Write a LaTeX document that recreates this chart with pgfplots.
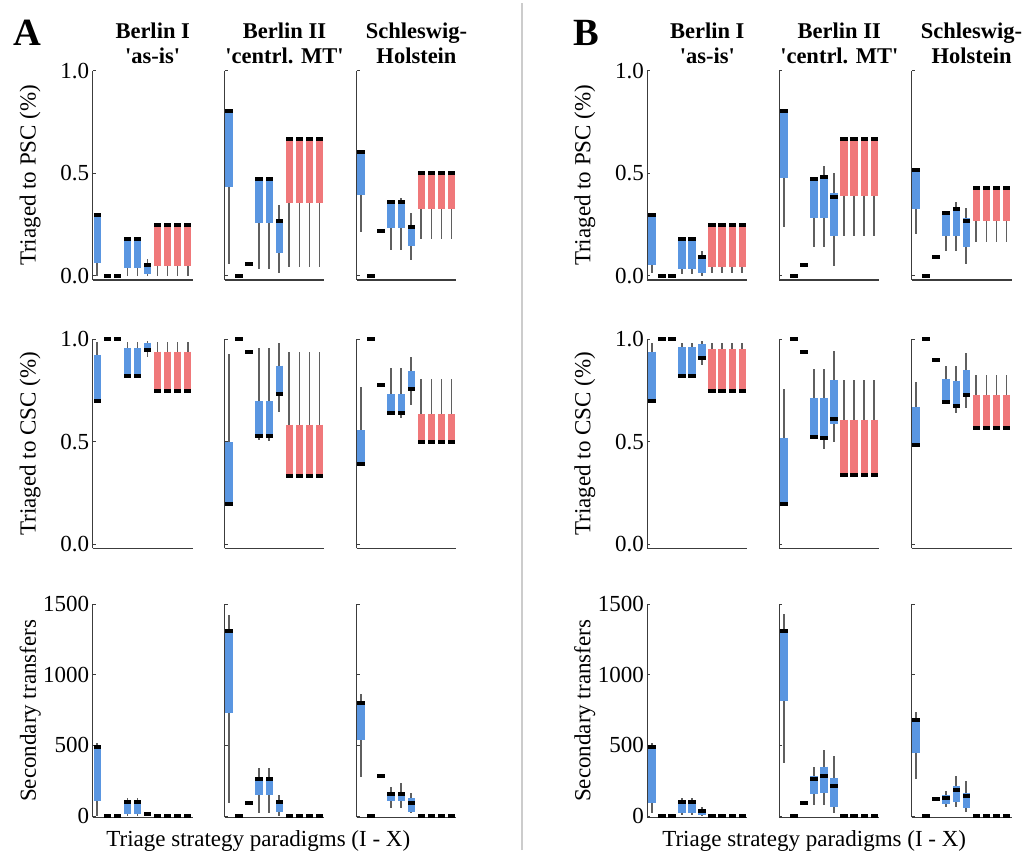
\documentclass[border=0pt]{standalone}
\usepackage{fontspec}
\setmainfont{Liberation Serif}
\usepackage{pgfplots}
\usepackage{pgfplotstable}
\pgfplotsset{compat=1.18}
\definecolor{bxblue}{RGB}{90,150,225}
\definecolor{bxred}{RGB}{240,120,122}
\definecolor{axgray}{RGB}{60,60,60}
\definecolor{whisk}{RGB}{95,95,95}
\pgfdeclareplotmark{medbar}{\pgfpathrectangle{\pgfpoint{-3.7pt}{-2pt}}{\pgfpoint{7.4pt}{4pt}}\pgfusepathqfill}

% columns: x lo q1 med q3 hi
\pgfplotstableread{
x lo q1 med q3 hi
1 0 0.062 0.297 0.297 0.297
2 0 0 0 0 0
3 0 0 0 0 0
4 0 0.037 0.179 0.179 0.179
5 0 0.037 0.179 0.179 0.179
6 0 0.01 0.054 0.06 0.08
7 0 0.05 0.248 0.248 0.248
8 0 0.05 0.248 0.248 0.248
9 0 0.05 0.248 0.248 0.248
10 0 0.05 0.248 0.248 0.248
}\tAaa
\pgfplotstableread{
x lo q1 med q3 hi
1 0.056 0.432 0.805 0.805 0.805
2 0 0 0 0 0
3 0.056 0.056 0.056 0.056 0.056
4 0.033 0.257 0.472 0.472 0.472
5 0.033 0.257 0.472 0.472 0.472
6 0.013 0.11 0.266 0.27 0.344
7 0.045 0.354 0.666 0.666 0.666
8 0.045 0.354 0.666 0.666 0.666
9 0.045 0.354 0.666 0.666 0.666
10 0.045 0.354 0.666 0.666 0.666
}\tAab
\pgfplotstableread{
x lo q1 med q3 hi
1 0.213 0.394 0.606 0.606 0.606
2 0 0 0 0 0
3 0.219 0.219 0.219 0.219 0.219
4 0.127 0.232 0.359 0.359 0.359
5 0.127 0.232 0.359 0.359 0.378
6 0.078 0.146 0.24 0.25 0.305
7 0.179 0.325 0.5 0.5 0.5
8 0.179 0.325 0.5 0.5 0.5
9 0.179 0.325 0.5 0.5 0.5
10 0.179 0.325 0.5 0.5 0.5
}\tAac
\pgfplotstableread{
x lo q1 med q3 hi
1 0.697 0.697 0.697 0.924 0.989
2 1 1 1 1 1
3 1 1 1 1 1
4 0.819 0.819 0.819 0.956 0.989
5 0.819 0.819 0.819 0.956 0.989
6 0.913 0.945 0.948 0.984 0.99
7 0.746 0.746 0.746 0.94 0.989
8 0.746 0.746 0.746 0.94 0.989
9 0.746 0.746 0.746 0.94 0.989
10 0.746 0.746 0.746 0.94 0.989
}\tAba
\pgfplotstableread{
x lo q1 med q3 hi
1 0.196 0.196 0.196 0.498 0.929
2 1 1 1 1 1
3 0.94 0.94 0.94 0.94 0.94
4 0.508 0.527 0.527 0.697 0.956
5 0.503 0.527 0.527 0.697 0.956
6 0.647 0.733 0.733 0.872 0.98
7 0.333 0.333 0.333 0.584 0.94
8 0.333 0.333 0.333 0.584 0.94
9 0.333 0.333 0.333 0.584 0.94
10 0.333 0.333 0.333 0.584 0.94
}\tAbb
\pgfplotstableread{
x lo q1 med q3 hi
1 0.393 0.393 0.393 0.557 0.767
2 1 1 1 1 1
3 0.778 0.778 0.778 0.778 0.778
4 0.633 0.641 0.641 0.733 0.859
5 0.617 0.641 0.641 0.733 0.859
6 0.681 0.757 0.757 0.846 0.913
7 0.498 0.498 0.498 0.633 0.807
8 0.498 0.498 0.498 0.633 0.807
9 0.498 0.498 0.498 0.633 0.807
10 0.498 0.498 0.498 0.633 0.807
}\tAbc
\pgfplotstableread{
x lo q1 med q3 hi
1 0 109 491 491 518
2 0 0 0 0 0
3 0 0 0 0 0
4 0 15 98 98 125
5 0 15 98 98 125
6 12 12 12 12 12
7 0 0 0 0 0
8 0 0 0 0 0
9 0 0 0 0 0
10 0 0 0 0 0
}\tAca
\pgfplotstableread{
x lo q1 med q3 hi
1 90 727 1311 1311 1424
2 0 0 0 0 0
3 90 90 90 90 90
4 19 149 260 260 342
5 19 149 260 260 342
6 0 31 97 105 149
7 0 0 0 0 0
8 0 0 0 0 0
9 0 0 0 0 0
10 0 0 0 0 0
}\tAcb
\pgfplotstableread{
x lo q1 med q3 hi
1 279 539 798 798 862
2 0 0 0 0 0
3 286 286 286 286 286
4 54 106 156 165 208
5 54 106 156 165 236
6 19 31 90 125 165
7 0 0 0 0 0
8 0 0 0 0 0
9 0 0 0 0 0
10 0 0 0 0 0
}\tAcc
\pgfplotstableread{
x lo q1 med q3 hi
1 0.013 0.054 0.297 0.297 0.297
2 0 0 0 0 0
3 0 0 0 0 0
4 0.01 0.032 0.179 0.179 0.179
5 0.01 0.032 0.179 0.179 0.179
6 0 0.013 0.091 0.1 0.119
7 0.013 0.045 0.248 0.248 0.248
8 0.013 0.045 0.248 0.248 0.248
9 0.013 0.045 0.248 0.248 0.248
10 0.013 0.045 0.248 0.248 0.248
}\tBaa
\pgfplotstableread{
x lo q1 med q3 hi
1 0.237 0.476 0.804 0.804 0.804
2 0 0 0 0 0
3 0.054 0.054 0.054 0.054 0.054
4 0.143 0.281 0.472 0.472 0.472
5 0.143 0.281 0.484 0.484 0.536
6 0.049 0.192 0.386 0.406 0.5
7 0.195 0.39 0.666 0.666 0.666
8 0.195 0.39 0.666 0.666 0.666
9 0.195 0.39 0.666 0.666 0.666
10 0.195 0.39 0.666 0.666 0.666
}\tBab
\pgfplotstableread{
x lo q1 med q3 hi
1 0.205 0.325 0.516 0.516 0.516
2 0 0 0 0 0
3 0.094 0.094 0.094 0.094 0.094
4 0.123 0.192 0.308 0.308 0.308
5 0.123 0.195 0.325 0.325 0.362
6 0.058 0.143 0.269 0.28 0.33
7 0.167 0.268 0.427 0.427 0.427
8 0.167 0.268 0.427 0.427 0.427
9 0.167 0.268 0.427 0.427 0.427
10 0.167 0.268 0.427 0.427 0.427
}\tBac
\pgfplotstableread{
x lo q1 med q3 hi
1 0.697 0.697 0.697 0.94 0.98
2 1 1 1 1 1
3 1 1 1 1 1
4 0.819 0.819 0.819 0.961 0.984
5 0.819 0.819 0.819 0.961 0.984
6 0.875 0.9 0.908 0.977 0.99
7 0.749 0.749 0.749 0.951 0.984
8 0.749 0.749 0.749 0.951 0.984
9 0.749 0.749 0.749 0.951 0.984
10 0.749 0.749 0.749 0.951 0.984
}\tBba
\pgfplotstableread{
x lo q1 med q3 hi
1 0.196 0.196 0.196 0.519 0.757
2 1 1 1 1 1
3 0.94 0.94 0.94 0.94 0.94
4 0.524 0.524 0.524 0.714 0.854
5 0.463 0.517 0.517 0.714 0.854
6 0.501 0.589 0.612 0.802 0.945
7 0.336 0.336 0.336 0.608 0.799
8 0.336 0.336 0.336 0.608 0.799
9 0.336 0.336 0.336 0.608 0.799
10 0.336 0.336 0.336 0.608 0.799
}\tBbb
\pgfplotstableread{
x lo q1 med q3 hi
1 0.482 0.482 0.482 0.67 0.79
2 1 1 1 1 1
3 0.9 0.9 0.9 0.9 0.9
4 0.693 0.693 0.693 0.806 0.872
5 0.638 0.673 0.673 0.798 0.872
6 0.665 0.73 0.73 0.851 0.935
7 0.568 0.568 0.568 0.73 0.827
8 0.568 0.568 0.568 0.73 0.827
9 0.568 0.568 0.568 0.73 0.827
10 0.568 0.568 0.568 0.73 0.827
}\tBbc
\pgfplotstableread{
x lo q1 med q3 hi
1 19 90 491 491 520
2 0 0 0 0 0
3 0 0 0 0 0
4 10 19 97 97 125
5 10 19 97 97 125
6 0 7 38 45 61
7 0 0 0 0 0
8 0 0 0 0 0
9 0 0 0 0 0
10 0 0 0 0 0
}\tBca
\pgfplotstableread{
x lo q1 med q3 hi
1 378 815 1311 1311 1429
2 0 0 0 0 0
3 90 90 90 90 90
4 78 156 260 283 350
5 78 161 286 350 468
6 19 66 215 267 428
7 0 0 0 0 0
8 0 0 0 0 0
9 0 0 0 0 0
10 0 0 0 0 0
}\tBcb
\pgfplotstableread{
x lo q1 med q3 hi
1 260 449 680 680 739
2 0 0 0 0 0
3 123 123 123 123 123
4 61 85 130 149 180
5 61 102 184 213 286
6 31 54 142 165 250
7 0 0 0 0 0
8 0 0 0 0 0
9 0 0 0 0 0
10 0 0 0 0 0
}\tBcc

\newcommand{\fs}{\fontsize{23}{26}\selectfont}

\pgfplotsset{
  bx/.style={scale only axis, width=100pt, xmin=0.55, xmax=10.5, clip=false,
    axis x line*=bottom, axis y line*=left,
    axis line style={-, line width=1.2pt, axgray},
    xtick=\empty, tick align=inside, major tick length=3pt,
    tick style={line width=0.9pt, axgray},
    /pgf/number format/assume math mode=true,
    tick label style={font=\fs},
    label style={font=\fs},
    every axis y label/.style={at={(axis description cs:-0.625,0.5)}, rotate=90, anchor=center, font=\fs},
    title style={font=\bfseries\fontsize{22.5}{25}\selectfont, align=center, anchor=south,
      inner sep=0pt, at={(axis description cs:0.6,1)}, yshift=0.5pt},
  },
  frac/.style={bx, ymin=-0.02, ymax=1.0, ytick={0,0.5,1},
    yticklabel style={/pgf/number format/.cd, fixed, fixed zerofill, precision=1}},
  cnt/.style={bx, ymin=-10, ymax=1500, ytick={0,500,1000,1500}, height=213.1pt,
    yticklabel style={/pgf/number format/.cd, fixed, 1000 sep={}}},
  nolab/.style={yticklabels={,,,,}},
}

\newcommand{\drawboxes}[1]{%
  \addplot[draw=none, mark=none, forget plot,
    error bars/.cd, y dir=both, y explicit, error mark=none,
    error bar style={line width=1.7pt, draw=whisk}]
    table[x=x, y=med, y error plus expr=\thisrow{hi}-\thisrow{med},
      y error minus expr=\thisrow{med}-\thisrow{lo}] {#1};
  \addplot[draw=none, mark=none, forget plot, restrict x to domain=0:6.5,
    error bars/.cd, y dir=minus, y explicit, error mark=none,
    error bar style={line width=7.4pt, draw=bxblue}]
    table[x=x, y=q3, y error minus expr=\thisrow{q3}-\thisrow{q1}] {#1};
  \addplot[draw=none, mark=none, forget plot, restrict x to domain=6.5:11,
    error bars/.cd, y dir=minus, y explicit, error mark=none,
    error bar style={line width=7.4pt, draw=bxred}]
    table[x=x, y=q3, y error minus expr=\thisrow{q3}-\thisrow{q1}] {#1};
  \addplot[only marks, mark=medbar, black, forget plot] table[x=x, y=med] {#1};
}

\begin{document}
\begin{tikzpicture}
\path[use as bounding box] (0pt,0pt) rectangle (1027pt,855pt);

% ---------- Panel A ----------
\begin{axis}[frac, height=209.3pt, at={(92.7pt,575pt)}, anchor=south west,
  ylabel={Triaged to PSC (\%)}, title={Berlin I\\\textquotesingle as-is\textquotesingle}]
\drawboxes{\tAaa}
\end{axis}
\begin{axis}[frac, nolab, height=209.3pt, at={(224.5pt,575pt)}, anchor=south west,
  title={Berlin II\\\textquotesingle centrl. MT\textquotesingle}]
\drawboxes{\tAab}
\end{axis}
\begin{axis}[frac, nolab, height=209.3pt, at={(356.5pt,575pt)}, anchor=south west,
  title={Schleswig-\\Holstein}]
\drawboxes{\tAac}
\end{axis}

\begin{axis}[frac, height=209pt, at={(92.7pt,306.7pt)}, anchor=south west,
  ylabel={Triaged to CSC (\%)}]
\drawboxes{\tAba}
\end{axis}
\begin{axis}[frac, nolab, height=209pt, at={(224.5pt,306.7pt)}, anchor=south west]
\drawboxes{\tAbb}
\end{axis}
\begin{axis}[frac, nolab, height=209pt, at={(356.5pt,306.7pt)}, anchor=south west]
\drawboxes{\tAbc}
\end{axis}

\begin{axis}[cnt, at={(92.7pt,37.6pt)}, anchor=south west, ylabel={Secondary transfers}]
\drawboxes{\tAca}
\end{axis}
\begin{axis}[cnt, nolab, at={(224.5pt,37.6pt)}, anchor=south west]
\drawboxes{\tAcb}
\end{axis}
\begin{axis}[cnt, nolab, at={(356.5pt,37.6pt)}, anchor=south west]
\drawboxes{\tAcc}
\end{axis}

% ---------- Panel B ----------
\begin{axis}[frac, height=209.3pt, at={(647.3pt,575pt)}, anchor=south west,
  ylabel={Triaged to PSC (\%)}, title={Berlin I\\\textquotesingle as-is\textquotesingle}]
\drawboxes{\tBaa}
\end{axis}
\begin{axis}[frac, nolab, height=209.3pt, at={(779.3pt,575pt)}, anchor=south west,
  title={Berlin II\\\textquotesingle centrl. MT\textquotesingle}]
\drawboxes{\tBab}
\end{axis}
\begin{axis}[frac, nolab, height=209.3pt, at={(911.5pt,575pt)}, anchor=south west,
  title={Schleswig-\\Holstein}]
\drawboxes{\tBac}
\end{axis}

\begin{axis}[frac, height=209pt, at={(647.3pt,306.7pt)}, anchor=south west,
  ylabel={Triaged to CSC (\%)}]
\drawboxes{\tBba}
\end{axis}
\begin{axis}[frac, nolab, height=209pt, at={(779.3pt,306.7pt)}, anchor=south west]
\drawboxes{\tBbb}
\end{axis}
\begin{axis}[frac, nolab, height=209pt, at={(911.5pt,306.7pt)}, anchor=south west]
\drawboxes{\tBbc}
\end{axis}

\begin{axis}[cnt, at={(647.3pt,37.6pt)}, anchor=south west, ylabel={Secondary transfers}]
\drawboxes{\tBca}
\end{axis}
\begin{axis}[cnt, nolab, at={(779.3pt,37.6pt)}, anchor=south west]
\drawboxes{\tBcb}
\end{axis}
\begin{axis}[cnt, nolab, at={(911.5pt,37.6pt)}, anchor=south west]
\drawboxes{\tBcc}
\end{axis}

% panel letters, x labels, divider
\node[anchor=base west, inner sep=0pt, font=\bfseries\fontsize{38.5}{40}\selectfont] at (13.3pt,809pt) {A};
\node[anchor=base west, inner sep=0pt, font=\bfseries\fontsize{38.5}{40}\selectfont] at (573.3pt,809pt) {B};
\node[anchor=base, inner sep=0pt, font=\fs] at (258.3pt,8.3pt) {Triage strategy paradigms (I - X)};
\node[anchor=base, inner sep=0pt, font=\fs] at (814.2pt,8.3pt) {Triage strategy paradigms (I - X)};
\draw[line width=1.5pt, black!20] (522pt,5pt) -- (522pt,852pt);
\end{tikzpicture}
\end{document}
